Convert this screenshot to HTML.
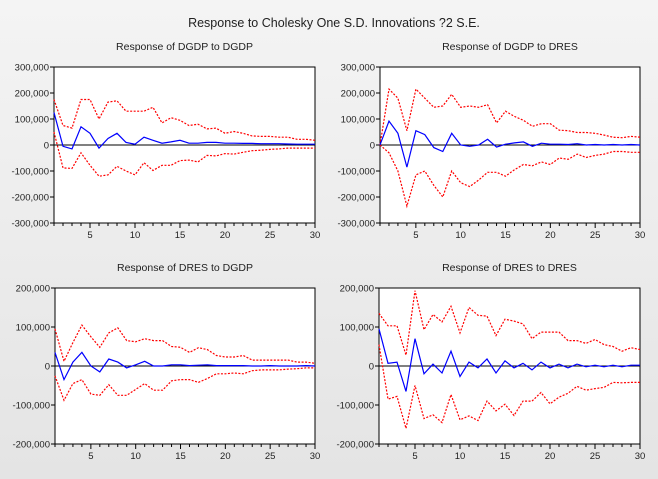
<!DOCTYPE html>
<html><head><meta charset="utf-8"><style>
body{margin:0;width:658px;height:479px;background:linear-gradient(#f4f4f4,#e4e4e4);overflow:hidden}
svg{display:block}
text{font-family:"Liberation Sans",sans-serif;fill:#222}
</style></head><body>
<svg id="s" width="658" height="479" xmlns="http://www.w3.org/2000/svg">
<text x="334" y="27" font-size="12.5" text-anchor="middle">Response to Cholesky One S.D. Innovations ?2 S.E.</text>
</svg>
<script>
const P=[
{t:"Response of DGDP to DGDP",x0:54,x1:315,y0:67,y1:223,m:300,ticks:[300,200,100,0,-100,-200,-300],
b:[125,-5,-15,70,45,-12,25,45,10,3,30,18,7,12,18,7,7,10,10,7,7,6,6,5,5,5,4,3,3,3],
u:[175,75,65,175,175,100,165,170,130,130,130,145,85,105,95,75,80,62,65,45,52,45,35,33,33,30,30,22,22,18],
l:[50,-88,-90,-30,-78,-120,-115,-82,-100,-115,-68,-98,-78,-78,-60,-58,-65,-40,-42,-33,-35,-28,-22,-20,-17,-15,-12,-12,-12,-12]},
{t:"Response of DGDP to DRES",x0:380,x1:640,y0:67,y1:223,m:300,ticks:[300,200,100,0,-100,-200,-300],
b:[0,92,45,-85,55,40,-10,-25,45,0,-5,0,22,-8,3,8,12,-5,7,3,3,2,5,0,2,0,2,0,2,0],
u:[0,215,180,55,215,180,145,150,195,145,150,145,155,85,130,110,95,72,82,82,57,55,48,48,45,38,30,28,33,30],
l:[0,-30,-100,-235,-115,-100,-155,-200,-100,-145,-160,-135,-105,-105,-120,-95,-75,-80,-65,-75,-50,-55,-35,-48,-40,-35,-25,-25,-28,-28]},
{t:"Response of DRES to DGDP",x0:55,x1:315,y0:288,y1:444,m:200,ticks:[200,100,0,-100,-200],
b:[35,-35,10,35,0,-15,18,10,-5,3,12,0,0,3,3,1,2,3,1,1,1,1,0,0,1,0,0,0,1,0],
u:[95,12,60,105,75,48,85,98,65,62,70,65,65,50,48,35,47,42,27,23,23,27,15,15,15,15,15,10,10,7],
l:[-25,-88,-45,-35,-72,-75,-48,-75,-75,-60,-45,-62,-62,-38,-35,-35,-42,-32,-20,-20,-18,-20,-12,-10,-10,-10,-8,-7,-5,-5]},
{t:"Response of DRES to DRES",x0:379,x1:640,y0:288,y1:444,m:200,ticks:[200,100,0,-100,-200],
b:[95,7,10,-65,70,-20,5,-18,38,-27,10,-5,18,-18,13,-5,7,-10,10,-5,5,-5,5,-2,2,-2,2,-2,2,2],
u:[135,103,103,28,193,93,132,113,153,85,150,130,128,78,120,115,108,70,87,87,87,65,65,58,68,55,50,38,47,42],
l:[55,-85,-78,-160,-50,-135,-125,-145,-73,-138,-128,-140,-90,-115,-98,-127,-90,-90,-68,-97,-80,-70,-52,-62,-58,-55,-42,-43,-42,-42]}];
let h="";
for(const p of P){
 const X=i=>p.x0+(p.x1-p.x0)*i/29, Y=v=>p.y0+(p.y1-p.y0)*(p.m-v)/(2*p.m);
 h+=`<rect x="${p.x0}" y="${p.y0}" width="${p.x1-p.x0}" height="${p.y1-p.y0}" fill="#fff" stroke="#000" stroke-width="1"/>`;
 h+=`<text x="${(p.x0+p.x1)/2}" y="${p.y0-17}" font-size="10.5" text-anchor="middle">${p.t}</text>`;
 for(const t of p.ticks){const y=Y(t);h+=`<line x1="${p.x0-4}" x2="${p.x0}" y1="${y}" y2="${y}" stroke="#000"/><text x="${p.x0-5}" y="${y+3.5}" font-size="9.5" text-anchor="end">${t==0?"0":t.toLocaleString("en-US")+",000"}</text>`;}
 for(let i=0;i<30;i++){const x=X(i);h+=`<line x1="${x}" x2="${x}" y1="${p.y1}" y2="${p.y1+((i+1)%5==0?5:3)}" stroke="#000"/>`;if((i+1)%5==0)h+=`<text x="${x}" y="${p.y1+15}" font-size="9.5" text-anchor="middle">${i+1}</text>`;}
 h+=`<line x1="${p.x0}" x2="${p.x1}" y1="${Y(0)}" y2="${Y(0)}" stroke="#000"/>`;
 const pl=(a,c,d)=>`<polyline fill="none" stroke="${c}" stroke-width="1.2" ${d?'stroke-dasharray="2,1.5"':''} points="${a.map((v,i)=>X(i).toFixed(1)+","+Y(v).toFixed(1)).join(" ")}"/>`;
 h+=pl(p.u,"#f00",1)+pl(p.l,"#f00",1)+pl(p.b,"#00f",0);
}
document.getElementById("s").insertAdjacentHTML("beforeend",h);
</script>
</body></html>
